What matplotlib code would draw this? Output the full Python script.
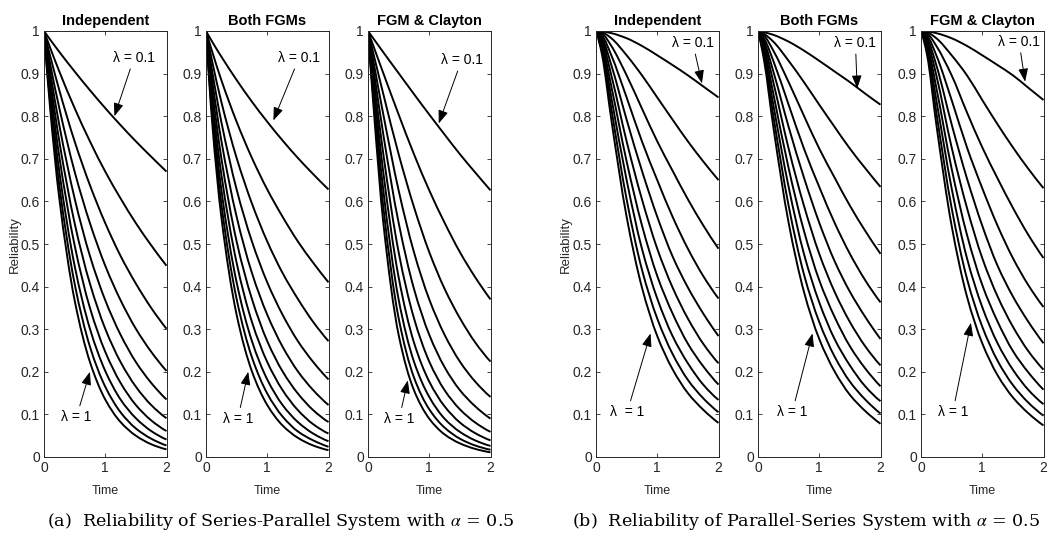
import numpy as np
import matplotlib
matplotlib.use('Agg')
import matplotlib.pyplot as plt
from matplotlib.path import Path
from matplotlib.patches import PathPatch

plt.rcParams['font.family'] = ['Liberation Sans', 'DejaVu Sans']
plt.rcParams['mathtext.fontset'] = 'stix'

# time grid shared by every curve
time = [0, 0.1, 0.25, 0.5, 0.75, 1.0, 1.25, 1.5, 1.75, 2.0]
lambdas = [0.1, 0.2, 0.3, 0.4, 0.5, 0.6, 0.7, 0.8, 0.9, 1.0]

# (a) series-parallel system, one row per lambda
sp_indep = [
    [1, 0.980, 0.951, 0.905, 0.861, 0.819, 0.779, 0.741, 0.705, 0.670],
    [1, 0.961, 0.905, 0.819, 0.741, 0.670, 0.607, 0.549, 0.497, 0.449],
    [1, 0.942, 0.861, 0.741, 0.638, 0.549, 0.472, 0.407, 0.350, 0.301],
    [1, 0.923, 0.819, 0.670, 0.549, 0.449, 0.368, 0.301, 0.247, 0.202],
    [1, 0.905, 0.779, 0.607, 0.472, 0.368, 0.287, 0.223, 0.174, 0.135],
    [1, 0.887, 0.741, 0.549, 0.407, 0.301, 0.223, 0.165, 0.122, 0.091],
    [1, 0.869, 0.705, 0.497, 0.350, 0.247, 0.174, 0.122, 0.086, 0.061],
    [1, 0.852, 0.670, 0.449, 0.301, 0.202, 0.135, 0.091, 0.061, 0.041],
    [1, 0.835, 0.638, 0.407, 0.259, 0.165, 0.105, 0.067, 0.043, 0.027],
    [1, 0.819, 0.607, 0.368, 0.223, 0.135, 0.082, 0.050, 0.030, 0.018],
]
sp_fgm = [
    [1, 0.975, 0.940, 0.885, 0.834, 0.787, 0.743, 0.702, 0.664, 0.628],
    [1, 0.952, 0.885, 0.787, 0.702, 0.628, 0.564, 0.506, 0.456, 0.410],
    [1, 0.929, 0.834, 0.702, 0.595, 0.506, 0.432, 0.371, 0.317, 0.272],
    [1, 0.906, 0.787, 0.628, 0.506, 0.410, 0.334, 0.272, 0.223, 0.182],
    [1, 0.885, 0.743, 0.564, 0.432, 0.334, 0.259, 0.201, 0.157, 0.122],
    [1, 0.864, 0.702, 0.506, 0.371, 0.272, 0.201, 0.149, 0.110, 0.082],
    [1, 0.843, 0.664, 0.456, 0.317, 0.223, 0.157, 0.110, 0.077, 0.055],
    [1, 0.824, 0.628, 0.410, 0.272, 0.182, 0.122, 0.082, 0.055, 0.037],
    [1, 0.805, 0.595, 0.371, 0.234, 0.149, 0.095, 0.060, 0.039, 0.024],
    [1, 0.787, 0.564, 0.334, 0.201, 0.122, 0.074, 0.045, 0.027, 0.016],
]
sp_clayton = [
    [1, 0.980, 0.950, 0.901, 0.852, 0.804, 0.757, 0.711, 0.668, 0.626],
    [1, 0.960, 0.901, 0.804, 0.711, 0.626, 0.550, 0.481, 0.422, 0.370],
    [1, 0.940, 0.852, 0.711, 0.587, 0.481, 0.395, 0.326, 0.269, 0.224],
    [1, 0.920, 0.804, 0.626, 0.481, 0.370, 0.287, 0.224, 0.177, 0.141],
    [1, 0.901, 0.757, 0.550, 0.395, 0.287, 0.211, 0.157, 0.119, 0.090],
    [1, 0.881, 0.711, 0.481, 0.326, 0.224, 0.157, 0.112, 0.081, 0.059],
    [1, 0.861, 0.668, 0.422, 0.269, 0.177, 0.119, 0.081, 0.056, 0.039],
    [1, 0.842, 0.626, 0.370, 0.224, 0.141, 0.090, 0.059, 0.039, 0.026],
    [1, 0.822, 0.587, 0.326, 0.187, 0.112, 0.069, 0.043, 0.027, 0.017],
    [1, 0.804, 0.550, 0.287, 0.157, 0.090, 0.053, 0.032, 0.019, 0.011],
]

# (b) parallel-series system
ps_indep = [
    [1, 0.999, 0.995, 0.983, 0.965, 0.943, 0.920, 0.896, 0.870, 0.844],
    [1, 0.997, 0.983, 0.943, 0.896, 0.844, 0.792, 0.741, 0.694, 0.650],
    [1, 0.994, 0.965, 0.896, 0.818, 0.741, 0.672, 0.605, 0.544, 0.489],
    [1, 0.989, 0.943, 0.844, 0.741, 0.650, 0.564, 0.489, 0.425, 0.372],
    [1, 0.983, 0.920, 0.792, 0.672, 0.564, 0.471, 0.398, 0.337, 0.284],
    [1, 0.977, 0.896, 0.741, 0.605, 0.489, 0.398, 0.325, 0.266, 0.220],
    [1, 0.969, 0.870, 0.694, 0.544, 0.425, 0.337, 0.266, 0.213, 0.170],
    [1, 0.961, 0.844, 0.650, 0.489, 0.372, 0.284, 0.220, 0.170, 0.134],
    [1, 0.952, 0.818, 0.605, 0.440, 0.325, 0.242, 0.181, 0.138, 0.105],
    [1, 0.943, 0.792, 0.564, 0.398, 0.284, 0.206, 0.150, 0.111, 0.080],
]
ps_fgm = [
    [1, 0.997, 0.991, 0.975, 0.954, 0.930, 0.905, 0.880, 0.853, 0.827],
    [1, 0.993, 0.975, 0.930, 0.880, 0.827, 0.775, 0.724, 0.678, 0.634],
    [1, 0.989, 0.954, 0.880, 0.801, 0.724, 0.656, 0.590, 0.531, 0.477],
    [1, 0.982, 0.930, 0.827, 0.724, 0.634, 0.550, 0.477, 0.415, 0.363],
    [1, 0.975, 0.905, 0.775, 0.656, 0.550, 0.460, 0.388, 0.329, 0.277],
    [1, 0.968, 0.880, 0.724, 0.590, 0.477, 0.388, 0.317, 0.260, 0.215],
    [1, 0.959, 0.853, 0.678, 0.531, 0.415, 0.329, 0.260, 0.208, 0.166],
    [1, 0.949, 0.827, 0.634, 0.477, 0.363, 0.277, 0.215, 0.166, 0.131],
    [1, 0.940, 0.801, 0.590, 0.429, 0.317, 0.236, 0.177, 0.135, 0.102],
    [1, 0.930, 0.775, 0.550, 0.388, 0.277, 0.201, 0.146, 0.108, 0.078],
]
ps_clayton = [
    [1, 0.999, 0.995, 0.983, 0.965, 0.943, 0.920, 0.896, 0.867, 0.838],
    [1, 0.997, 0.983, 0.943, 0.896, 0.838, 0.781, 0.727, 0.677, 0.631],
    [1, 0.994, 0.965, 0.896, 0.809, 0.727, 0.654, 0.585, 0.522, 0.467],
    [1, 0.989, 0.943, 0.838, 0.727, 0.631, 0.543, 0.467, 0.404, 0.352],
    [1, 0.983, 0.920, 0.781, 0.654, 0.543, 0.449, 0.377, 0.318, 0.267],
    [1, 0.977, 0.896, 0.727, 0.585, 0.467, 0.377, 0.306, 0.249, 0.205],
    [1, 0.969, 0.867, 0.677, 0.522, 0.404, 0.318, 0.249, 0.199, 0.158],
    [1, 0.961, 0.838, 0.631, 0.467, 0.352, 0.267, 0.205, 0.158, 0.124],
    [1, 0.952, 0.809, 0.585, 0.419, 0.306, 0.226, 0.169, 0.128, 0.097],
    [1, 0.943, 0.781, 0.543, 0.377, 0.267, 0.192, 0.140, 0.103, 0.074],
]

titles = ['Independent', 'Both FGMs', 'FGM & Clayton'] * 2
panels = [sp_indep, sp_fgm, sp_clayton, ps_indep, ps_fgm, ps_clayton]
captions = ['(a)  Reliability of Series-Parallel System with $\\alpha$ = 0.5',
            '(b)  Reliability of Parallel-Series System with $\\alpha$ = 0.5']

# annotation placement (data coords): (text_xy, tip_xy) for lambda=0.1 and lambda=1
ann_top = [((1.47, 0.937), (1.15, 0.80)), ((1.52, 0.937), (1.10, 0.79)),
           ((1.53, 0.932), (1.155, 0.783)), ((1.58, 0.972), (1.73, 0.877)),
           ((1.59, 0.972), (1.62, 0.865)), ((1.60, 0.975), (1.70, 0.881))]
ann_bot = [((0.53, 0.094), (0.75, 0.20)), ((0.52, 0.090), (0.69, 0.20)),
           ((0.51, 0.090), (0.65, 0.18)), ((0.51, 0.106), (0.89, 0.29)),
           ((0.56, 0.106), (0.89, 0.29)), ((0.52, 0.106), (0.815, 0.315))]
bot_text = ['λ = 1', 'λ = 1', 'λ = 1', 'λ  = 1', 'λ = 1', 'λ = 1']


def smooth_curve(x, y):
    # monotone cubic (Bezier) drawing of a sampled curve
    x = np.asarray(x, float)
    y = np.asarray(y, float)
    h = np.diff(x)
    d = np.diff(y) / h
    m = np.zeros_like(y)
    for k in range(1, len(y) - 1):
        if d[k - 1] * d[k] > 0:
            m[k] = 3 * (h[k - 1] + h[k]) / ((2 * h[k] + h[k - 1]) / d[k - 1]
                                            + (h[k] + 2 * h[k - 1]) / d[k])
    for k0, j in [(0, 0), (-1, -1)]:
        hh0, hh1 = (h[0], h[1]) if j == 0 else (h[-1], h[-2])
        dd0, dd1 = (d[0], d[1]) if j == 0 else (d[-1], d[-2])
        e = ((2 * hh0 + hh1) * dd0 - hh0 * dd1) / (hh0 + hh1)
        if e * dd0 <= 0:
            e = 0.0
        elif abs(e) > 3 * abs(dd0):
            e = 3 * dd0
        m[k0] = e
    verts = [(x[0], y[0])]
    codes = [Path.MOVETO]
    for k in range(len(x) - 1):
        verts += [(x[k] + h[k] / 3, y[k] + m[k] * h[k] / 3),
                  (x[k + 1] - h[k] / 3, y[k + 1] - m[k + 1] * h[k] / 3),
                  (x[k + 1], y[k + 1])]
        codes += [Path.CURVE4] * 3
    return Path(verts, codes)


W, H = 1049, 537
fig = plt.figure(figsize=(W / 100, H / 100), dpi=100)
left_px = [44, 206, 368, 596, 758, 921]
dark = '#262626'

for i, data in enumerate(panels):
    ax = fig.add_axes([left_px[i] / W, 80 / H, 122.5 / W, 426 / H])
    for row in data:
        ax.add_patch(PathPatch(smooth_curve(time, row), fill=False, edgecolor='black',
                               lw=1.4, capstyle='butt'))
    ax.set_xlim(0, 2)
    ax.set_ylim(0, 1)
    ax.set_xticks([0, 1, 2])
    ax.set_xticklabels(['0', '1', '2'])
    yt = np.round(np.arange(0, 1.01, 0.1), 1)
    ax.set_yticks(yt)
    ax.set_yticklabels(['0' if v == 0 else ('1' if v == 1 else f'{v:g}') for v in yt])
    ax.tick_params(direction='in', top=True, right=True, length=3, width=0.6,
                   labelsize=10, colors=dark, pad=3)
    for s in ax.spines.values():
        s.set_linewidth(0.7)
        s.set_color(dark)
    ax.set_title(titles[i], fontsize=10.5, fontweight='bold', pad=4)
    cx = (left_px[i] + 61) / W
    fig.text(cx, 1 - 491 / H, 'Time', ha='center', va='center', fontsize=9, color=dark)

    arrow = dict(arrowstyle='-|>,head_length=0.8,head_width=0.3', color='black',
                 lw=0.7, shrinkA=1, shrinkB=0)
    (tx, ty), (px, py) = ann_top[i]
    ax.annotate('λ = 0.1', xy=(px, py), xytext=(tx, ty), ha='center', va='center',
                fontsize=10, arrowprops=arrow)
    (tx, ty), (px, py) = ann_bot[i]
    ax.annotate(bot_text[i], xy=(px, py), xytext=(tx, ty), ha='center', va='center',
                fontsize=10, arrowprops=arrow)

for x in [15, 566]:
    fig.text(x / W, 1 - 245 / H, 'Reliability', rotation=90, ha='center', va='center',
             fontsize=9.5, color=dark)

for cx, cap in zip([281, 806], captions):
    fig.text(cx / W, 1 - 522 / H, cap, ha='center', va='center', fontsize=12.6,
             family=['DejaVu Serif'])

fig.savefig('out.png', dpi=100)
